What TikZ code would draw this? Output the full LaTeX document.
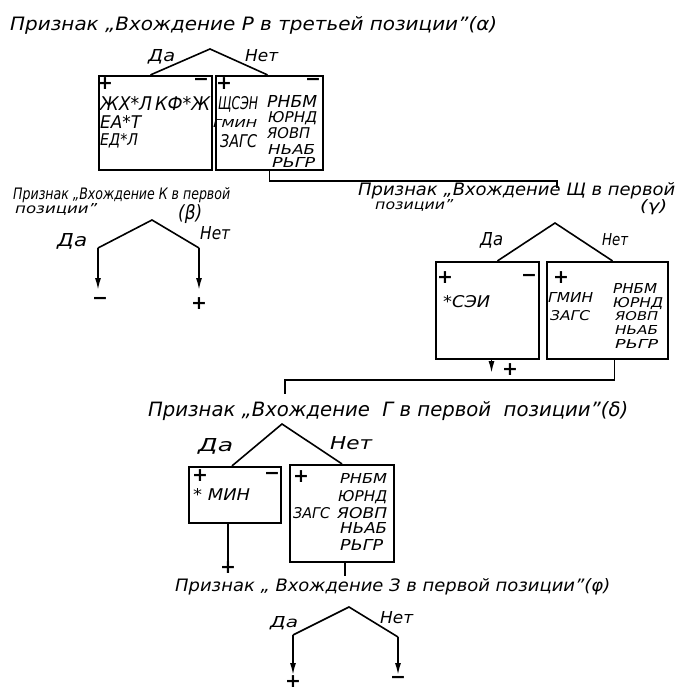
\documentclass[tikz,border=0pt]{standalone}
\usepackage{fontspec}
\usepackage{graphicx}
\setmainfont{DejaVu Sans}
\usetikzlibrary{arrows.meta,calc}
% text of given width and height
\newcommand\fitt[3]{\resizebox{#1pt}{#2pt}{#3}}

\begin{document}
\begin{tikzpicture}[x=1pt,y=-1pt,
  lbl/.style={font=\itshape\fontsize{16}{16}\selectfont,inner sep=0pt,anchor=base west},
  sgn/.style={font=\bfseries\fontsize{19}{19}\selectfont,inner sep=0pt},
  box/.style={draw,line width=2.2pt,inner sep=0pt},
  leg/.style={line width=1.6pt},
  arr/.style={line width=1.6pt,-{Latex[length=12pt,width=6pt]}}]
\useasboundingbox (0,0) rectangle (679,692);

% признак alpha
\node[lbl] (ta) at (10,31) {\fitt{487}{14}{Признак „Вхождение Р в третьей позиции"(α)}};
\node[lbl] (ya) at (148,62) {\fitt{27}{12}{Да}};
\node[lbl] (na) at (245,62) {\fitt{33}{12}{Нет}};
\coordinate (aa) at (210,49);
\node[box,minimum width=113,minimum height=94] (b1) at (155.5,123) {};
\node[box,minimum width=107,minimum height=94] (b2) at (269.5,123) {};
\draw[leg] ([xshift=-5]b1.north) -- (aa) -- ([xshift=-2]b2.north);

\node[sgn] (p1) at (105,84) {+};
\node[sgn] (m1) at (201,82) {−};
\node[lbl] (b1a) at (100,111) {\fitt{52}{14}{ЖХ*Л}};
\node[lbl] (b1b) at (155,111) {\fitt{55}{14}{КФ*Ж}};
\node[lbl] (b1c) at (100,129) {\fitt{41}{13}{ЕА*Т}};
\node[lbl] (b1d) at (100,146) {\fitt{38}{12}{ЕД*Л}};

\node[sgn] (p2) at (224,84) {+};
\node[sgn] (m2) at (313,82) {−};
\node[lbl] (b2a) at (218,110) {\fitt{40}{13}{ЩСЭН}};
\node[lbl] (b2b) at (213,128) {\fitt{44}{8}{ГМИН}};
\node[lbl] (b2c) at (220,148) {\fitt{37}{13}{ЗАГС}};
\node[lbl] (b2d) at (267,108) {\fitt{50}{12}{РНБМ}};
\node[lbl] (b2e) at (268,123) {\fitt{49}{11}{ЮРНД}};
\node[lbl] (b2f) at (267,139) {\fitt{43}{11}{ЯОВП}};
\node[lbl] (b2g) at (268,155) {\fitt{47}{10}{НЬАБ}};
\node[lbl] (b2h) at (272,168) {\fitt{43}{10}{РЬГР}};

\coordinate (kg) at (557,188);
\draw[leg] (b2.south) -- ++(0,10) -| (kg);

% признак beta
\node[lbl] (tb) at (13,200) {\fitt{217}{12}{Признак „Вхождение К в первой}};
\node[lbl] (tb2) at (15,214) {\fitt{82}{10}{позиции"}};
\node[lbl] (tb3) at (178,220) {\fitt{24}{15}{(β)}};
\node[lbl] (yb) at (57,247) {\fitt{30}{13}{Да}};
\node[lbl] (nb) at (200,240) {\fitt{30}{13}{Нет}};
\coordinate (ab) at (152,220);
\coordinate (lb) at (98,248);
\coordinate (rb) at (199,248);
\coordinate (lbe) at (98,290);
\coordinate (rbe) at (199,290);
\draw[leg] (lb) -- (ab) -- (rb);
\draw[arr] (lb) -- (lbe);
\draw[arr] (rb) -- (rbe);
\node[sgn] (mb) at (100,301) {−};
\node[sgn] (pb) at (199,304) {+};

% признак gamma
\node[lbl] (tg) at (358,196) {\fitt{317}{13}{Признак „Вхождение Щ в первой}};
\node[lbl] (tg2) at (375,210) {\fitt{78}{10}{позиции"}};
\node[lbl] (tg3) at (640,212) {\fitt{27}{12}{(γ)}};
\node[lbl] (yg) at (480,246) {\fitt{23}{13}{Да}};
\node[lbl] (ng) at (602,245) {\fitt{26}{12}{Нет}};
\coordinate (ag) at (555,223);
\node[box,minimum width=103,minimum height=97] (b3) at (487.5,310.5) {};
\node[box,minimum width=121,minimum height=97] (b4) at (607.5,310.5) {};
\draw[leg] ([xshift=10]b3.north) -- (ag) -- ([xshift=5]b4.north);

\node[sgn] (p3) at (445,278) {+};
\node[sgn] (m3) at (529,278) {−};
\node[lbl] (b3a) at (443,307) {\fitt{47}{12}{*СЭИ}};

\node[sgn] (p4) at (561,278) {+};
\node[lbl] (b4a) at (548,302) {\fitt{45}{10}{ГМИН}};
\node[lbl] (b4b) at (550,320) {\fitt{40}{10}{ЗАГС}};
\node[lbl] (b4c) at (613,293) {\fitt{44}{10}{РНБМ}};
\node[lbl] (b4d) at (613,307) {\fitt{50}{10}{ЮРНД}};
\node[lbl] (b4e) at (615,320) {\fitt{43}{9}{ЯОВП}};
\node[lbl] (b4f) at (615,334) {\fitt{43}{9}{НЬАБ}};
\node[lbl] (b4g) at (615,348) {\fitt{43}{9}{РЬГР}};

\draw[arr] ([xshift=4]b3.south) -- ++(0,13);
\node[sgn] (pg) at (510,370) {+};
\coordinate (kd) at (285,380);
\coordinate (kd2) at (285,394);
\draw[leg] ([xshift=7]b4.south) |- (kd) -- (kd2);

% признак delta
\node[lbl] (td) at (148,416) {\fitt{480}{15}{Признак „Вхождение \ Г в первой \ позиции"(δ)}};
\node[lbl] (yd) at (198,451) {\fitt{35}{13}{Да}};
\node[lbl] (nd) at (330,449) {\fitt{42}{13}{Нет}};
\coordinate (ad) at (282,424);
\node[box,minimum width=92,minimum height=56] (b5) at (235,495) {};
\node[box,minimum width=104,minimum height=97] (b6) at (342,513.5) {};
\draw[leg] ([xshift=-3]b5.north) -- (ad) -- (b6.north);

\node[sgn] (p5) at (200,476) {+};
\node[sgn] (m5) at (272,476) {−};
\node[lbl] (b5a) at (193,500) {\fitt{57}{12}{* МИН}};

\node[sgn] (p6) at (301,477) {+};
\node[lbl] (b6a) at (293,518) {\fitt{37}{11}{ЗАГС}};
\node[lbl] (b6b) at (340,483) {\fitt{47}{10}{РНБМ}};
\node[lbl] (b6c) at (338,501) {\fitt{49}{11}{ЮРНД}};
\node[lbl] (b6d) at (337,518) {\fitt{50}{11}{ЯОВП}};
\node[lbl] (b6e) at (340,533) {\fitt{47}{11}{НЬАБ}};
\node[lbl] (b6f) at (340,550) {\fitt{43}{11}{РЬГР}};

\node[sgn] (pd) at (228,568) {+};
\draw[leg] ([xshift=-7]b5.south) -- (pd.north);
\draw[leg] ([xshift=3]b6.south) -- ++(0,13);

% признак phi
\node[lbl] (tf) at (175,591) {\fitt{435}{13}{Признак „ Вхождение З в первой позиции"(φ)}};
\node[lbl] (yf) at (270,627) {\fitt{28}{11}{Да}};
\node[lbl] (nf) at (380,623) {\fitt{33}{12}{Нет}};
\coordinate (af) at (349,607);
\coordinate (lf) at (293,635);
\coordinate (rf) at (398,637);
\coordinate (lfe) at (293,675);
\coordinate (rfe) at (398,675);
\draw[leg] (lf) -- (af) -- (rf);
\draw[arr] (lf) -- (lfe);
\draw[arr] (rf) -- (rfe);
\node[sgn] (pf) at (293,682) {+};
\node[sgn] (mf) at (398,680) {−};
\end{tikzpicture}
\end{document}
